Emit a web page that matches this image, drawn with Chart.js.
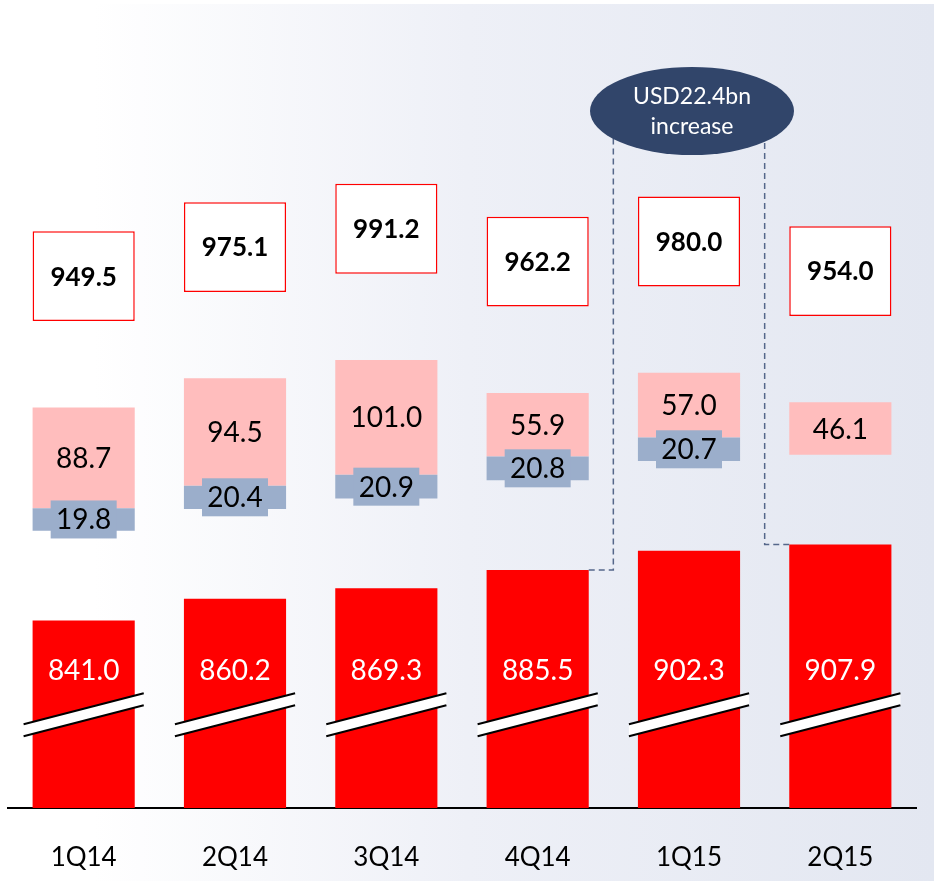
<!DOCTYPE html>
<html>
<head>
<meta charset="utf-8">
<script src="https://cdn.jsdelivr.net/npm/chart.js@4.4.1/dist/chart.umd.min.js"></script>
<style>
  html, body { margin: 0; padding: 0; background: #fff; }
  #wrap { width: 934px; height: 881px; }
</style>
</head>
<body>
<div id="wrap"><canvas id="myChart"></canvas></div>
<script>
var quarters = ['1Q14', '2Q14', '3Q14', '4Q14', '1Q15', '2Q15'];
var baseValues = [841.0, 860.2, 869.3, 885.5, 902.3, 907.9];
var blueValues = [19.8, 20.4, 20.9, 20.8, 20.7, null];
var pinkValues = [88.7, 94.5, 101.0, 55.9, 57.0, 46.1];
var totalValues = [949.5, 975.1, 991.2, 962.2, 980.0, 954.0];
var calloutText = ['USD22.4bn', 'increase'];

// broken axis: the small pieces float a fixed step above the red bar
var Y_MIN = 676, Y_MAX = 1387;
var GAP = 79;        // red bar top -> blue/pink pieces
var BOX_LIFT = 76;   // stack top -> total box
var BOX_H = 79;
var BREAK_AT = 758;  // where the break marks cross the bars
var BASE_LABEL_AT = 797;

var RED = '#ff0000', PINK = '#ffbdbd', BLUE = '#9baecb';

var baseRanges = baseValues.map(function (v) { return [Y_MIN, v]; });
var blueRanges = baseValues.map(function (v, i) {
  if (blueValues[i] == null) return null;
  return [v + GAP, v + GAP + blueValues[i]];
});
var pinkRanges = baseValues.map(function (v, i) {
  var start = v + GAP + (blueValues[i] || 0);
  return [start, start + pinkValues[i]];
});
var boxRanges = totalValues.map(function (t) {
  return [t + GAP + BOX_LIFT, t + GAP + BOX_LIFT + BOX_H];
});

Chart.defaults.font.family = 'Lato, "Open Sans", sans-serif';

var background = {
  id: 'background',
  beforeDraw: function (chart) {
    var c = chart.ctx, w = chart.width, h = chart.height;
    var g = c.createLinearGradient(0, 0, w, 0);
    g.addColorStop(0, '#ffffff');
    g.addColorStop(0.1, '#ffffff');
    g.addColorStop(0.5, '#eef0f7');
    g.addColorStop(1, '#e3e7f1');
    c.save();
    c.fillStyle = '#ffffff';
    c.fillRect(0, 0, w, h);
    c.fillStyle = g;
    c.fillRect(0, 4, w, h - 4);
    c.restore();
  }
};

var labels = {
  id: 'labels',
  afterDatasetsDraw: function (chart) {
    var c = chart.ctx;
    var y = chart.scales.y;
    c.save();
    c.textAlign = 'center';
    c.textBaseline = 'middle';

    // red bars: break marks + white value
    chart.getDatasetMeta(0).data.forEach(function (bar, i) {
      var y0 = y.getPixelForValue(BREAK_AT);
      var l = bar.x - bar.width / 2 - 9, r = bar.x + bar.width / 2 + 9;
      var s = -31 / 120;
      var yl = y0 + s * (l - bar.x), yr = y0 + s * (r - bar.x);
      c.fillStyle = '#ffffff';
      c.beginPath();
      c.moveTo(l, yl - 6); c.lineTo(r, yr - 6); c.lineTo(r, yr + 6); c.lineTo(l, yl + 6);
      c.closePath();
      c.fill();
      c.strokeStyle = '#000';
      c.lineWidth = 2;
      c.beginPath();
      c.moveTo(l, yl - 6); c.lineTo(r, yr - 6);
      c.moveTo(l, yl + 6); c.lineTo(r, yr + 6);
      c.stroke();
      c.fillStyle = '#ffffff';
      c.font = '28px Lato';
      c.fillText(baseValues[i].toFixed(1), bar.x, y.getPixelForValue(BASE_LABEL_AT));
    });

    // pink values
    chart.getDatasetMeta(2).data.forEach(function (bar, i) {
      c.fillStyle = '#000';
      c.font = '28px Lato';
      c.fillText(pinkValues[i].toFixed(1), bar.x, (bar.y + bar.base) / 2 + 1);
    });

    // blue values sit on a small tag of the same colour
    chart.getDatasetMeta(1).data.forEach(function (bar, i) {
      if (blueValues[i] == null) return;
      var cy = (bar.y + bar.base) / 2;
      c.fillStyle = BLUE;
      c.fillRect(bar.x - 33, cy - 19, 66, 38);
      c.fillStyle = '#000';
      c.font = '28px Lato';
      c.fillText(blueValues[i].toFixed(1), bar.x, cy + 1);
    });

    // totals in boxes
    chart.getDatasetMeta(3).data.forEach(function (bar, i) {
      c.fillStyle = '#000';
      c.font = 'bold 26px Lato';
      c.fillText(totalValues[i].toFixed(1), bar.x, (bar.y + bar.base) / 2 + 1);
    });
    c.restore();
  }
};

var callout = {
  id: 'callout',
  afterDraw: function (chart) {
    var c = chart.ctx;
    var red = chart.getDatasetMeta(0).data;
    var a = red[3], b = red[4], d = red[5];
    var cx = b.x + 3, cy = 111, rx = 102, ry = 44;
    var xl = (a.x + a.width / 2 + b.x - b.width / 2) / 2;
    var xr = (b.x + b.width / 2 + d.x - d.width / 2) / 2;
    c.save();
    c.strokeStyle = '#55678a';
    c.lineWidth = 1.5;
    c.setLineDash([6, 4]);
    c.beginPath();
    c.moveTo(a.x + a.width / 2, a.y); c.lineTo(xl, a.y); c.lineTo(xl, cy);
    c.moveTo(d.x - d.width / 2, d.y); c.lineTo(xr, d.y); c.lineTo(xr, cy);
    c.stroke();
    c.setLineDash([]);
    c.fillStyle = '#31456a';
    c.beginPath();
    c.ellipse(cx, cy, rx, ry, 0, 0, Math.PI * 2);
    c.fill();
    c.fillStyle = '#ffffff';
    c.font = '23px Lato';
    c.textAlign = 'center';
    c.textBaseline = 'middle';
    c.fillText(calloutText[0], cx, cy - 14);
    c.fillText(calloutText[1], cx, cy + 16);
    c.restore();
  }
};

var ctx = document.getElementById('myChart').getContext('2d');
var myChart = new Chart(ctx, {
  type: 'bar',
  data: {
    labels: quarters,
    datasets: [
      { data: baseRanges, backgroundColor: RED },
      { data: blueRanges, backgroundColor: BLUE },
      { data: pinkRanges, backgroundColor: PINK },
      { data: boxRanges, backgroundColor: '#ffffff', borderColor: RED, borderWidth: 1.5, borderSkipped: false }
    ]
  },
  options: {
    responsive: true,
    maintainAspectRatio: false,
    animation: false,
    layout: { padding: { left: 8, right: 18, top: 0, bottom: 8 } },
    datasets: { bar: { grouped: false, barPercentage: 0.675, categoryPercentage: 1 } },
    plugins: { legend: { display: false }, tooltip: { enabled: false } },
    scales: {
      x: {
        grid: { display: false, drawTicks: false, tickLength: 0 },
        border: { display: true, color: '#000', width: 2 },
        ticks: { color: '#000', font: { size: 26 }, padding: 34 },
        afterFit: function (scale) { scale.height = 65; }
      },
      y: { display: false, min: Y_MIN, max: Y_MAX }
    }
  },
  plugins: [background, labels, callout]
});
</script>
</body>
</html>
